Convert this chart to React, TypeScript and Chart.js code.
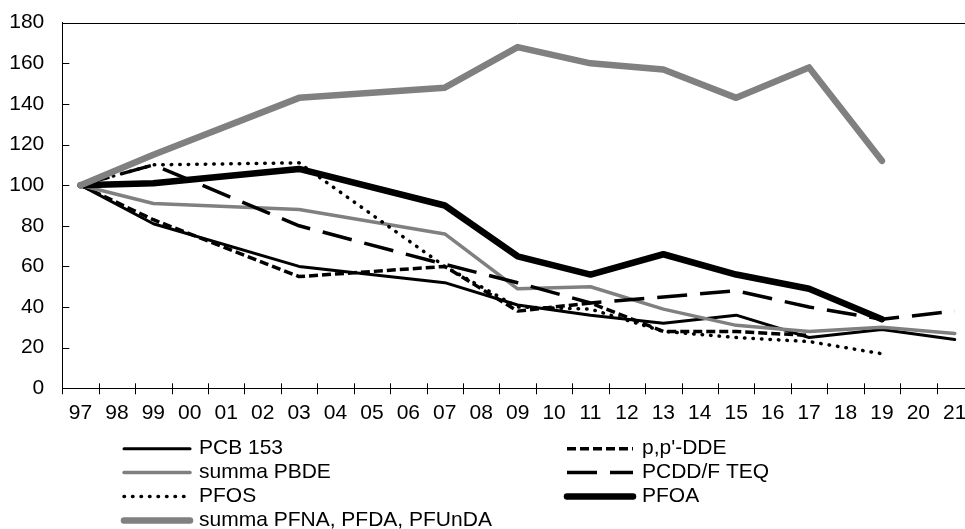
import React, { useEffect, useRef } from 'react';
import { Chart, registerables } from 'chart.js';

Chart.register(...registerables);

const FONT = "'Liberation Sans', Arial, sans-serif";

const years = ['97', '98', '99', '00', '01', '02', '03', '04', '05', '06', '07', '08', '09', '10', '11', '12', '13', '14', '15', '16', '17', '18', '19', '20', '21'];
const yTicks = [0, 20, 40, 60, 80, 100, 120, 140, 160, 180];

const pcb153 = [100, null, 81, null, null, null, 60, null, null, null, 52, null, 41, null, 36, null, 32, null, 36, null, 25, null, 29, null, 24];
const ppDDE = [100, null, 83, null, null, null, 55, null, null, null, 60, null, 38, null, 42, null, 28, null, 28, null, 26, null, null, null, null];
const summaPBDE = [100, null, 91, null, null, null, 88, null, null, null, 76, null, 49, null, 50, null, 39, null, 31, null, 28, null, 30, null, 27];
const pcddTEQ = [100, null, 110, null, null, null, 80, null, null, null, 61, null, 52, null, 42, null, 45, null, 48, null, 40, null, 34, null, 38];
const pfos = [100, null, 110, null, null, null, 111, null, null, null, 60, null, 40, null, 39, null, 28, null, 25, null, 23, null, 17, null, null];
const pfoa = [100, null, 101, null, null, null, 108, null, null, null, 90, null, 65, null, 56, null, 66, null, 56, null, 49, null, 34, null, null];
const summaPFNA = [100, null, 115, null, null, null, 143, null, null, null, 148, null, 168, null, 160, null, 157, null, 143, null, 158, null, 112, null, null];

const axisPlugin = {
  id: 'axisTicks',
  beforeDatasetsDraw(chart: any) {
    const { ctx, chartArea, scales } = chart;
    const xs = scales.x;
    const ys = scales.y;
    ctx.save();
    ctx.strokeStyle = '#000';
    ctx.lineWidth = 1;
    ctx.beginPath();
    const yt = Math.round(ys.getPixelForValue(180)) + 0.5;
    ctx.moveTo(chartArea.left, yt);
    ctx.lineTo(chartArea.right, yt);
    yTicks.forEach((v) => {
      const py = Math.round(ys.getPixelForValue(v)) + 0.5;
      ctx.moveTo(chartArea.left, py);
      ctx.lineTo(chartArea.left + 7, py);
    });
    const n = years.length;
    const w = (chartArea.right - chartArea.left) / n;
    const yb = chartArea.bottom;
    for (let i = 0; i <= n; i++) {
      const px = Math.round(xs.getPixelForValue(0) - w / 2 + i * w) + 0.5;
      ctx.moveTo(px, yb - 5);
      ctx.lineTo(px, yb + 6);
    }
    ctx.stroke();
    ctx.restore();
  },
};

const legendPlugin = {
  id: 'customLegend',
  afterDraw(chart: any) {
    const ctx = chart.ctx;
    const ds = chart.data.datasets;
    const cols = [
      [124, 190, 199],
      [567, 633, 642],
    ];
    const rows = [448.7, 472.6, 496.5, 520.6];
    ctx.save();
    ds.forEach((d: any, i: number) => {
      const [x0, x1, tx] = cols[i % 2];
      const y = rows[Math.floor(i / 2)];
      ctx.beginPath();
      ctx.strokeStyle = d.borderColor;
      ctx.lineWidth = d.borderWidth;
      ctx.setLineDash(d.borderDash || []);
      ctx.lineCap = d.borderCapStyle || 'butt';
      ctx.moveTo(x0, y);
      ctx.lineTo(x1, y);
      ctx.stroke();
      ctx.setLineDash([]);
      ctx.fillStyle = '#000';
      ctx.font = `21px ${FONT}`;
      ctx.textBaseline = 'middle';
      ctx.textAlign = 'left';
      ctx.fillText(d.label, tx, y);
    });
    ctx.restore();
  },
};

export default function App() {
  const ref = useRef<HTMLCanvasElement | null>(null);

  useEffect(() => {
    if (!ref.current) return;
    const mk = (label: string, data: (number | null)[], color: string, width: number, dash: number[], cap: string, order: number) => ({
      label,
      data,
      borderColor: color,
      backgroundColor: color,
      borderWidth: width,
      borderDash: dash,
      borderCapStyle: cap,
      borderJoinStyle: 'round',
      pointRadius: 0,
      pointHoverRadius: 0,
      fill: false,
      tension: 0,
      spanGaps: true,
      order,
    });
    const chart = new Chart(ref.current, {
      type: 'line',
      data: {
        labels: years,
        datasets: [
          mk('PCB 153', pcb153, '#000000', 3, [], 'round', 7),
          mk("p,p'-DDE", ppDDE, '#000000', 3.5, [9, 4], 'butt', 6),
          mk('summa PBDE', summaPBDE, '#808080', 3.5, [], 'round', 5),
          mk('PCDD/F TEQ', pcddTEQ, '#000000', 3.5, [30, 13], 'butt', 4),
          mk('PFOS', pfos, '#000000', 3.5, [0.5, 8], 'round', 3),
          mk('PFOA', pfoa, '#000000', 6.5, [], 'round', 2),
          mk('summa PFNA, PFDA, PFUnDA', summaPFNA, '#808080', 6.5, [], 'round', 1),
        ] as any,
      },
      options: {
        animation: false,
        responsive: false,
        devicePixelRatio: 1,
        layout: { padding: { top: 22.7, right: 17, bottom: 0, left: 0 } },
        plugins: {
          legend: { display: false },
          tooltip: { enabled: false },
        },
        scales: {
          x: {
            type: 'category',
            offset: true,
            grid: { display: true, drawOnChartArea: false, drawTicks: true, tickLength: 12, tickColor: 'rgba(0,0,0,0)', offset: true },
            border: { display: true, color: '#000', width: 1 },
            ticks: {
              autoSkip: false,
              maxRotation: 0,
              minRotation: 0,
              padding: 0,
              color: '#000',
              font: { family: FONT, size: 21 },
            },
            afterFit: (scale: any) => {
              scale.height = 140.7;
            },
          },
          y: {
            min: 0,
            max: 180,
            grid: { display: true, drawOnChartArea: false, drawTicks: true, tickLength: 18, tickColor: 'rgba(0,0,0,0)' },
            border: { display: true, color: '#000', width: 1 },
            ticks: {
              stepSize: 20,
              padding: 0,
              color: '#000',
              font: { family: FONT, size: 21 },
            },
            afterFit: (scale: any) => {
              scale.width = 62.3;
            },
          },
        },
      } as any,
      plugins: [axisPlugin, legendPlugin],
    });
    return () => chart.destroy();
  }, []);

  return (
    <div style={{ position: 'fixed', left: 0, top: 0, width: 965, height: 529, overflow: 'hidden', background: '#fff' }}>
      <canvas ref={ref} width={990} height={529} style={{ display: 'block', width: 990, height: 529 }} />
    </div>
  );
}
